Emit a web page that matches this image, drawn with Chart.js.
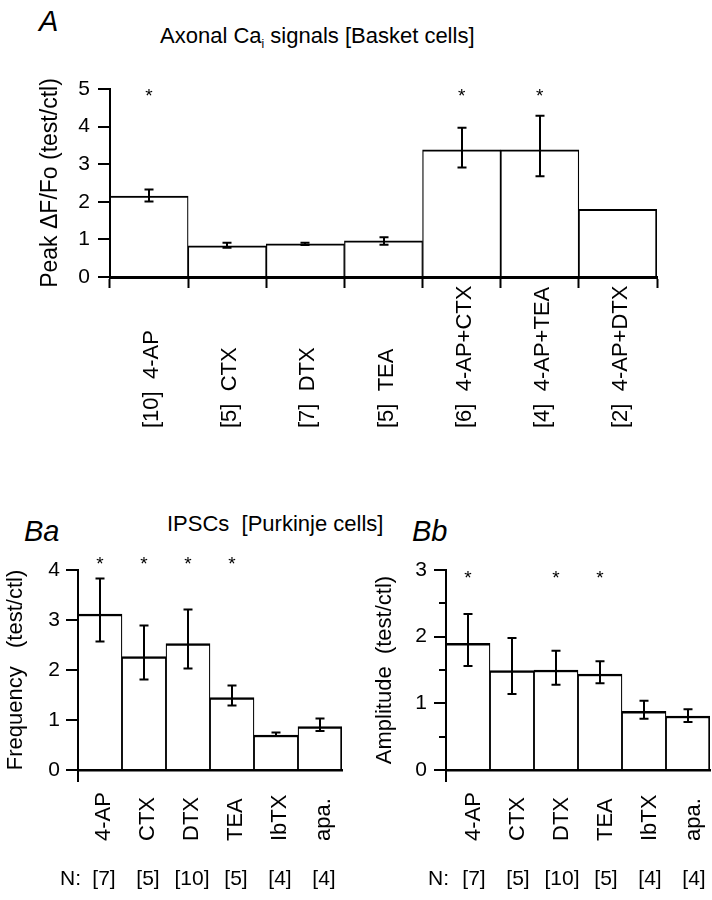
<!DOCTYPE html>
<html>
<head>
<meta charset="utf-8">
<script src="https://cdn.jsdelivr.net/npm/chart.js@4.4.0/dist/chart.umd.min.js"></script>
<style>
  html, body { margin: 0; padding: 0; background: #fff; }
  body { width: 712px; height: 900px; position: relative; overflow: hidden;
         font-family: "Liberation Sans", Arial, sans-serif; color: #000; }
  .box { position: absolute; }
  .lbl { position: absolute; white-space: pre; line-height: 1; }
  .panel { font-style: italic; font-size: 29px; }
  .ttl { font-size: 22px; }
  .ttl sub { font-size: 12px; vertical-align: -5px; }
</style>
</head>
<body>
<div class="lbl panel" style="left:39px;top:7px">A</div>
<div class="lbl ttl" style="left:160px;top:25px">Axonal Ca<sub>i</sub> signals [Basket cells]</div>
<div class="lbl panel" style="left:24px;top:517px">Ba</div>
<div class="lbl panel" style="left:412px;top:517px">Bb</div>
<div class="lbl ttl" style="left:167px;top:513px">IPSCs  [Purkinje cells]</div>

<div class="box" style="left:0;top:0;width:712px;height:450px"><canvas id="chartA" width="712" height="450"></canvas></div>
<div class="box" style="left:0;top:480px;width:356px;height:420px"><canvas id="chartBa" width="356" height="420"></canvas></div>
<div class="box" style="left:356px;top:480px;width:356px;height:420px"><canvas id="chartBb" width="356" height="420"></canvas></div>

<script>
// ---- data ----
// A: axonal Ca signals, peak dF/Fo (test/ctl)
const catsA = ['4-AP', 'CTX', 'DTX', 'TEA', '4-AP+CTX', '4-AP+TEA', '4-AP+DTX'];
const nA = [10, 5, 7, 5, 6, 4, 2];
const peakA = [2.15, 0.83, 0.88, 0.96, 3.38, 3.38, 1.80];
const hiA = [2.33, 0.91, 0.91, 1.06, 3.97, 4.29, null];
const loA = [2.01, 0.78, 0.85, 0.86, 2.91, 2.68, null];
const sigA = [true, false, false, false, true, true, false];

// B: IPSCs in Purkinje cells
const catsB = ['4-AP', 'CTX', 'DTX', 'TEA', 'IbTX', 'apa.'];
const nB = [7, 5, 10, 5, 4, 4];
const freqB = [3.12, 2.27, 2.53, 1.45, 0.70, 0.87];
const freqHi = [3.83, 2.89, 3.21, 1.69, 0.75, 1.03];
const freqLo = [2.57, 1.81, 2.03, 1.29, 0.68, 0.78];
const freqSig = [true, true, true, true, false, false];

const ampB = [1.90, 1.49, 1.50, 1.44, 0.88, 0.81];
const ampHi = [2.34, 1.98, 1.79, 1.63, 1.04, 0.91];
const ampLo = [1.56, 1.14, 1.28, 1.30, 0.77, 0.72];
const ampSig = [true, false, true, true, false, false];

const FAMILY = '"Liberation Sans", Arial, sans-serif';
Chart.defaults.font.family = FAMILY;
Chart.defaults.color = '#000';

function panelChart(id, p) {
  const n = p.cats.length;

  // error bars, stars, tick marks and rotated category labels
  const deco = {
    id: 'deco',
    afterDatasetsDraw(chart) {
      const { ctx, chartArea: area, scales: { x, y } } = chart;
      ctx.save();
      ctx.strokeStyle = '#000';
      ctx.fillStyle = '#000';
      ctx.lineWidth = 2;

      y.ticks.forEach(t => {
        const py = Math.round(y.getPixelForValue(t.value));
        const len = Number.isInteger(t.value) ? 12 : 7;
        ctx.beginPath();
        ctx.moveTo(area.left - len, py);
        ctx.lineTo(area.left, py);
        ctx.stroke();
      });

      if (!p.xTicks) {
        ctx.beginPath();
        ctx.moveTo(area.left, area.bottom);
        ctx.lineTo(area.left, area.bottom + 12);
        ctx.stroke();
      }

      for (let i = 0; i < n; i++) {
        if (p.hi[i] == null) continue;
        const px = Math.round(x.getPixelForValue(i));
        const y1 = y.getPixelForValue(p.hi[i]);
        const y2 = y.getPixelForValue(p.lo[i]);
        ctx.beginPath();
        ctx.moveTo(px, y1); ctx.lineTo(px, y2);
        ctx.moveTo(px - 4.5, y1); ctx.lineTo(px + 4.5, y1);
        ctx.moveTo(px - 4.5, y2); ctx.lineTo(px + 4.5, y2);
        ctx.stroke();
      }

      ctx.font = '19px ' + FAMILY;
      ctx.textAlign = 'center';
      ctx.textBaseline = 'alphabetic';
      p.sig.forEach((s, i) => {
        if (s) ctx.fillText('*', x.getPixelForValue(i), y.getPixelForValue(p.starAt) + 11);
      });

      ctx.font = '22px ' + FAMILY;
      ctx.textAlign = 'left';
      ctx.textBaseline = 'middle';
      p.cats.forEach((c, i) => {
        ctx.save();
        ctx.translate(x.getPixelForValue(i) + p.labelShift, p.labelBase);
        ctx.rotate(-Math.PI / 2);
        ctx.fillText(p.labelText(i), 0, 0);
        ctx.restore();
      });

      if (p.nRowY != null) {
        ctx.font = '21px ' + FAMILY;
        ctx.textAlign = 'center';
        p.ns.forEach((v, i) => ctx.fillText('[' + v + ']', x.getPixelForValue(i) + p.labelShift, p.nRowY));
        ctx.textAlign = 'right';
        ctx.fillText('N:', area.left + 3, p.nRowY);
      }
      ctx.restore();
    }
  };

  return new Chart(document.getElementById(id), {
    type: 'bar',
    data: {
      labels: p.cats,
      datasets: [{
        data: p.values,
        backgroundColor: '#fff',
        borderColor: '#000',
        borderSkipped: false,
        borderWidth: c => ({
          top: p.barTop,
          left: c.dataIndex === 0 ? 0 : 1.25,
          right: c.dataIndex === n - 1 ? 2 : 1.25,
          bottom: 0
        }),
        barPercentage: 1,
        categoryPercentage: 1
      }]
    },
    options: {
      responsive: false,
      animation: false,
      events: [],
      layout: { padding: p.pad },
      plugins: { legend: { display: false }, tooltip: { enabled: false } },
      scales: {
        x: {
          offset: true,
          afterFit: s => { s.height = p.xHeight; },
          border: { display: true, color: '#000', width: p.xBorder, z: 1 },
          grid: {
            display: p.xTicks, offset: true, drawOnChartArea: false,
            drawTicks: true, tickLength: 11, tickColor: '#000', tickWidth: 2
          },
          ticks: { display: false }
        },
        y: {
          min: 0,
          max: p.yMax,
          afterFit: s => { s.width = p.yWidth; },
          border: { display: true, color: '#000', width: 2, z: 1 },
          grid: { display: false, drawTicks: false },
          ticks: {
            stepSize: 0.5,
            padding: p.tickPad,
            font: { size: 21 },
            callback: v => Number.isInteger(v) ? v : ''
          },
          title: {
            display: true,
            text: p.yTitle,
            font: { size: p.titleSize, lineHeight: 1 },
            padding: { top: p.titlePad, bottom: 0 }
          }
        }
      }
    },
    plugins: [deco]
  });
}

panelChart('chartA', {
  cats: catsA, values: peakA, hi: hiA, lo: loA, sig: sigA, starAt: 4.96,
  yMax: 5, yTitle: 'Peak \u0394F/Fo (test/ctl)', titleSize: 23,
  pad: { top: 89, right: 55, bottom: 0, left: 0 },
  yWidth: 110, xHeight: 173, tickPad: 20, titlePad: 39,
  xTicks: true, xBorder: 3, barTop: 2,
  labelBase: 428, labelShift: 3,
  labelText: i => '[' + nA[i] + ']  ' + catsA[i],
  nRowY: null
});

panelChart('chartBa', {
  cats: catsB, values: freqB, hi: freqHi, lo: freqLo, sig: freqSig, starAt: 4.23,
  yMax: 4, yTitle: 'Frequency   (test/ctl)', titleSize: 22,
  pad: { top: 90, right: 14, bottom: 0, left: 0 },
  yWidth: 78, xHeight: 130, tickPad: 18, titlePad: 5,
  xTicks: false, xBorder: 2.5, barTop: 2.5,
  labelBase: 361, labelShift: 4,
  labelText: i => catsB[i],
  ns: nB, nRowY: 399
});

panelChart('chartBb', {
  cats: catsB, values: ampB, hi: ampHi, lo: ampLo, sig: ampSig, starAt: 2.96,
  yMax: 3, yTitle: 'Amplitude  (test/ctl)', titleSize: 22,
  pad: { top: 90, right: 2, bottom: 0, left: 0 },
  yWidth: 90, xHeight: 130, tickPad: 19, titlePad: 18,
  xTicks: false, xBorder: 2.5, barTop: 2.5,
  labelBase: 361, labelShift: 6,
  labelText: i => catsB[i],
  ns: nB, nRowY: 399
});
</script>
</body>
</html>
